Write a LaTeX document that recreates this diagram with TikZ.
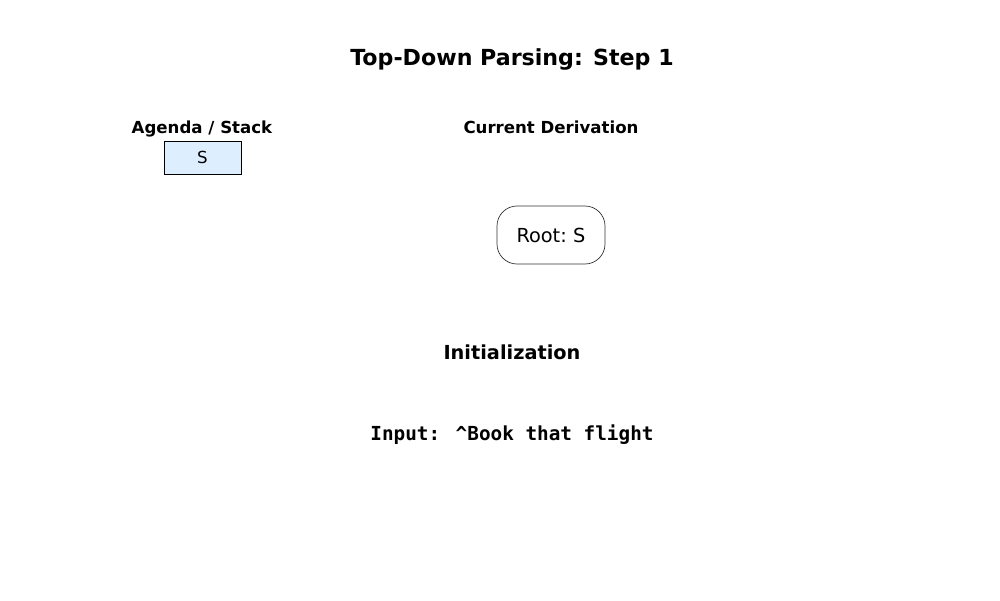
\documentclass[tikz,border=0pt]{standalone}
\usepackage{fontspec}
\setmainfont{DejaVu Sans}
\newfontfamily\monofont{DejaVu Sans Mono}
\definecolor{stackblue}{HTML}{DDEEFF}
\definecolor{rootedge}{HTML}{333333}
\begin{document}
\begin{tikzpicture}[x=0.02cm, y=-0.02cm]

  % Fix the page to the 1000 x 600 frame
  \useasboundingbox (0,0) rectangle (1000,600);

  % Title
  \node[font=\fontsize{12.6}{15}\selectfont\bfseries] (title) at (512,59) {Top-Down Parsing: Step 1};

  % Left column: agenda / stack
  \node[font=\fontsize{9.45}{11}\selectfont\bfseries] (agendalbl) at (202,129) {Agenda / Stack};
  \node[draw=black, fill=stackblue, minimum width=77*0.02cm, minimum height=33*0.02cm,
        inner sep=0pt, font=\fontsize{9.45}{11}\selectfont] (stackS) at (202.5,157.5) {S};

  % Right column: current derivation
  \node[font=\fontsize{9.45}{11}\selectfont\bfseries] (derivlbl) at (551,127) {Current Derivation};
  \node[draw=rootedge, rounded corners=0.4cm, minimum width=108*0.02cm, minimum height=58*0.02cm,
        inner sep=0pt, font=\fontsize{11}{13}\selectfont] (root) at (551,235) {Root:\,\,S};

  % Step caption and input line
  \node[font=\fontsize{11}{13}\selectfont\bfseries] (steplbl) at (512,352) {Initialization};
  \node[font=\fontsize{11}{13}\selectfont\monofont\bfseries] (input) at (512,435) {Input: \^{}Book that flight};

\end{tikzpicture}
\end{document}
